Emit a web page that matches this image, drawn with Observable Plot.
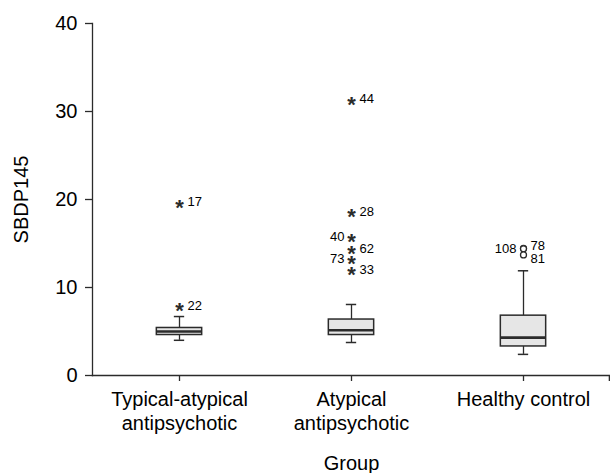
<!DOCTYPE html>
<html>
<head>
<meta charset="utf-8">
<script src="https://cdn.jsdelivr.net/npm/d3@7"></script>
<script src="https://cdn.jsdelivr.net/npm/@observablehq/plot@0.6"></script>
<style>
  html, body { margin: 0; padding: 0; background: #fff; }
  #chart { width: 610px; height: 473px; }
  svg { font-family: "Liberation Sans", Arial, Helvetica, sans-serif; }
</style>
</head>
<body>
<div id="chart"></div>
<script>
// ---- Data ----
const groups = ["Typical-atypical\nantipsychotic", "Atypical\nantipsychotic", "Healthy control"];
const whiskerLow  = [4.0, 3.75, 2.4];
const q1          = [4.6, 4.6, 3.3];
const median      = [5.0, 5.15, 4.3];
const q3          = [5.4, 6.36, 6.8];
const whiskerHigh = [6.7, 8.07, 11.9];

// extreme values (asterisks)
const extremeIds    = [17, 22, 44, 28, 40, 62, 73, 33];
const extremeGroup  = [0, 0, 1, 1, 1, 1, 1, 1];
const extremeValues = [19.7, 7.95, 31.4, 18.6, 15.8, 14.4, 13.3, 12.05];

// outliers (circles)
const outlierIds    = [108, 78, 81];
const outlierGroup  = [2, 2, 2];
const outlierValues = [14.45, 14.4, 13.7];

const yTicks = [0, 10, 20, 30, 40];

// ---- Build tables ----
const boxes = groups.map((g, i) => ({group: g, lo: whiskerLow[i], q1: q1[i], med: median[i], q3: q3[i], hi: whiskerHigh[i]}));
const extremes = extremeIds.map((id, i) => ({id, group: groups[extremeGroup[i]], value: extremeValues[i]}));
const outliers = outlierIds.map((id, i) => ({id, group: groups[outlierGroup[i]], value: outlierValues[i]}));

// label placement config (labels shifted to avoid collisions)
const leftLabels = new Set([40, 73, 108]);
const labelNudge = {78: -3, 81: 4};

const W = 610, H = 473, ML = 92, MR = 0, MT = 23, MB = 98;
const step = (W - ML - MR) / groups.length;
const boxInset = (step - 46) / 2;
const capInset = (step - 11) / 2;
const ink = "#2b2b2b";

const labelMarks = (data, opts) => {
  const right = data.filter(d => !leftLabels.has(d.id));
  const left = data.filter(d => leftLabels.has(d.id));
  const marks = [];
  const nudges = [...new Set(right.map(d => labelNudge[d.id] || 0))];
  for (const n of nudges) {
    marks.push(Plot.text(right.filter(d => (labelNudge[d.id] || 0) === n), {x: "group", y: "value", text: d => String(d.id), textAnchor: "start", dx: opts.dxRight, dy: n, fontSize: 13, lineAnchor: "middle", fill: "#000"}));
  }
  marks.push(Plot.text(left, {x: "group", y: "value", text: d => String(d.id), textAnchor: "end", dx: -7, fontSize: 13, lineAnchor: "middle", fill: "#000"}));
  return marks;
};

const plot = Plot.plot({
  width: W, height: H,
  marginLeft: ML, marginRight: MR, marginTop: MT, marginBottom: MB,
  style: {fontFamily: '"Liberation Sans", Arial, sans-serif', color: "#000", background: "#fff"},
  x: {type: "band", domain: groups, padding: 0, label: null},
  y: {domain: [0, 40], label: null},
  marks: [
    Plot.frame({anchor: "left", stroke: ink, strokeWidth: 1.3}),
    Plot.frame({anchor: "bottom", stroke: ink, strokeWidth: 1.3}),
    Plot.axisY({ticks: yTicks, tickSize: 7, tickPadding: 8, fontSize: 20, stroke: ink, strokeWidth: 1.3, label: null}),
    Plot.axisX({tickSize: 6, tickPadding: 7, fontSize: 20, lineHeight: 1.2, stroke: ink, strokeWidth: 1.3, label: null}),
    Plot.text(["SBDP145"], {frameAnchor: "left", rotate: -90, dx: -70.5, fontSize: 20, textAnchor: "middle", lineAnchor: "middle", fill: "#000"}),
    Plot.text(["Group"], {frameAnchor: "bottom", dy: 88, fontSize: 20, textAnchor: "middle", lineAnchor: "middle", fill: "#000"}),
    // whiskers
    Plot.ruleX(boxes, {x: "group", y1: "lo", y2: "q1", stroke: ink, strokeWidth: 1.3}),
    Plot.ruleX(boxes, {x: "group", y1: "q3", y2: "hi", stroke: ink, strokeWidth: 1.3}),
    Plot.tickY(boxes, {x: "group", y: "lo", insetLeft: capInset, insetRight: capInset, stroke: ink, strokeWidth: 1.5}),
    Plot.tickY(boxes, {x: "group", y: "hi", insetLeft: capInset, insetRight: capInset, stroke: ink, strokeWidth: 1.5}),
    // boxes
    Plot.barY(boxes, {x: "group", y1: "q1", y2: "q3", insetLeft: boxInset, insetRight: boxInset, fill: "#e6e6e6", stroke: ink, strokeWidth: 1.5}),
    Plot.tickY(boxes, {x: "group", y: "med", insetLeft: boxInset, insetRight: boxInset, stroke: ink, strokeWidth: 2.6}),
    // extremes
    Plot.text(extremes, {x: "group", y: "value", text: () => "*", fontSize: 22, fontWeight: "bold", lineAnchor: "middle", dy: 5.5, fill: ink}),
    ...labelMarks(extremes, {dxRight: 8}),
    // outliers
    Plot.dot(outliers, {x: "group", y: "value", r: 3, fill: "#fff", stroke: ink, strokeWidth: 1.3}),
    ...labelMarks(outliers, {dxRight: 7})
  ]
});

// right-end tick on the category axis (SPSS style)
const xr = plot.scale("x").range;
d3.select(plot).append("line")
  .attr("x1", xr[1] - 0.65).attr("x2", xr[1] - 0.65)
  .attr("y1", H - MB).attr("y2", H - MB + 6)
  .attr("stroke", ink).attr("stroke-width", 1.3);

document.getElementById("chart").appendChild(plot);
</script>
</body>
</html>
